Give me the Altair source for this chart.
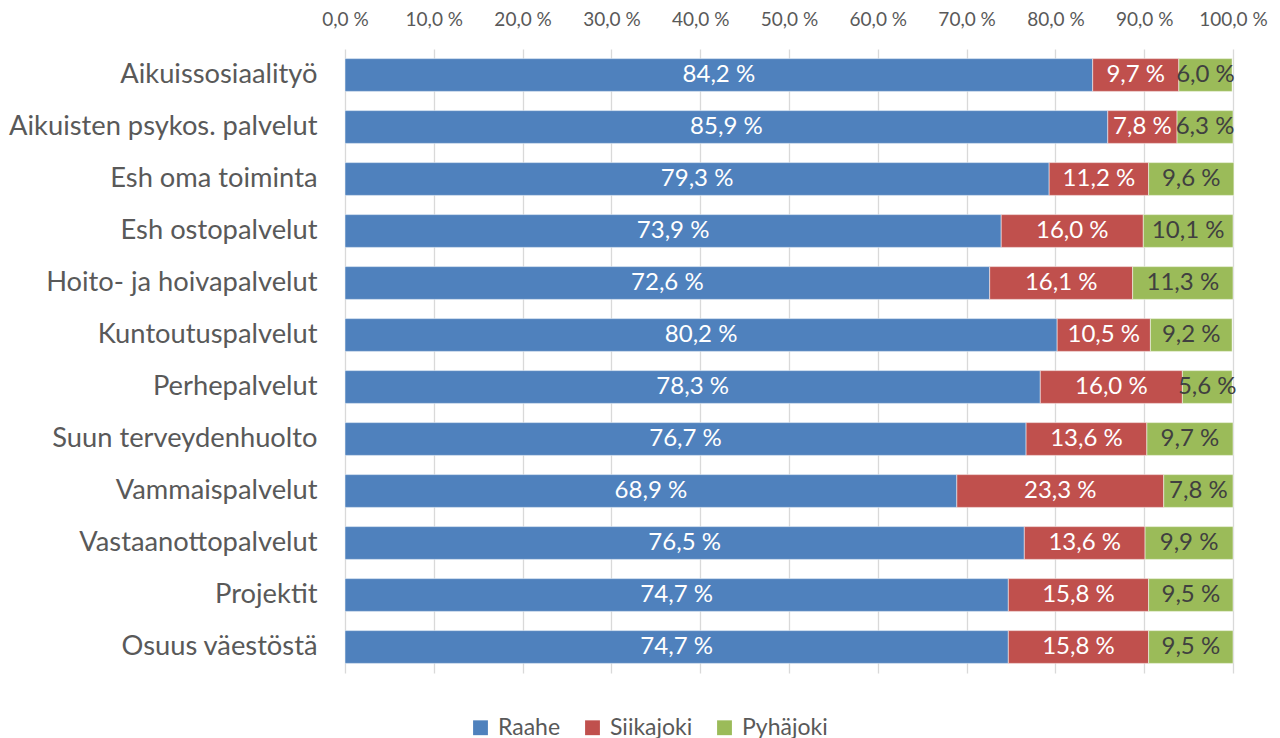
import altair as alt
import pandas as pd

categories = ["Aikuissosiaalityö", "Aikuisten psykos. palvelut", "Esh oma toiminta",
              "Esh ostopalvelut", "Hoito- ja hoivapalvelut", "Kuntoutuspalvelut",
              "Perhepalvelut", "Suun terveydenhuolto", "Vammaispalvelut",
              "Vastaanottopalvelut", "Projektit", "Osuus väestöstä"]
series = ["Raahe", "Siikajoki", "Pyhäjoki"]
raahe = [84.2, 85.9, 79.3, 73.9, 72.6, 80.2, 78.3, 76.7, 68.9, 76.5, 74.7, 74.7]
siikajoki = [9.7, 7.8, 11.2, 16.0, 16.1, 10.5, 16.0, 13.6, 23.3, 13.6, 15.8, 15.8]
pyhajoki = [6.0, 6.3, 9.6, 10.1, 11.3, 9.2, 5.6, 9.7, 7.8, 9.9, 9.5, 9.5]
ticks = [0, 10, 20, 30, 40, 50, 60, 70, 80, 90, 100]
colors = ["#4F81BD", "#C0504D", "#9BBB59"]
label_colors = ["#FFFFFF", "#FFFFFF", "#404040"]

rows = []
for vals, s, lc in zip([raahe, siikajoki, pyhajoki], series, label_colors):
    for c, v in zip(categories, vals):
        rows.append({"cat": c, "series": s, "order": series.index(s), "value": v, "lc": lc})
df = pd.DataFrame(rows)

FONT = "Lato"

base = alt.Chart(df).transform_stack(
    stack="value", groupby=["cat"], as_=["v0", "v1"],
    sort=[alt.SortField("order", "ascending")]
).transform_calculate(
    mid="(datum.v0 + datum.v1) / 2",
    lab="replace(format(datum.value, '.1f'), '.', ',') + ' %'"
)

y_enc = alt.Y("cat:N", sort=categories, title=None,
              scale=alt.Scale(paddingInner=0.37, paddingOuter=0.185),
              axis=alt.Axis(domain=False, ticks=False, labelFontSize=27.3, labelColor="#595959",
                            labelFont=FONT, labelPadding=28, minExtent=336, maxExtent=336,
                            labelLimit=400))

bars = base.mark_bar(stroke="white", strokeWidth=0.5).encode(
    x=alt.X("v0:Q", scale=alt.Scale(domain=[0, 100], nice=False), title=None,
            axis=alt.Axis(orient="top", values=ticks,
                          labelExpr="replace(format(datum.value, '.1f'), '.', ',') + ' %'",
                          labelFontSize=19, labelColor="#595959", labelFont=FONT,
                          labelOverlap=False, labelFlush=False,
                          domain=False, ticks=False, labelPadding=20,
                          minExtent=41, maxExtent=41,
                          grid=True, gridColor="#D9D9D9", gridWidth=1.3)),
    x2="v1:Q",
    y=y_enc,
    color=alt.Color("series:N", sort=series,
                    scale=alt.Scale(domain=series, range=colors),
                    legend=alt.Legend(title=None, orient="none", direction="horizontal",
                                      legendX=124, legendY=667, symbolType="square",
                                      symbolSize=220, symbolStrokeWidth=0,
                                      labelFontSize=23, labelFont=FONT, labelColor="#595959",
                                      columnPadding=20, labelOffset=6)),
)

text = base.mark_text(fontSize=24, font=FONT).encode(
    x="mid:Q",
    y=alt.Y("cat:N", sort=categories),
    text="lab:N",
    color=alt.Color("lc:N", scale=None, legend=None),
)

chart = alt.layer(bars, text).properties(
    width=888, height=624, padding=0, background="white"
).configure_view(stroke=None)

chart.save("out.html", embed_options={"renderer": "svg", "actions": False})
